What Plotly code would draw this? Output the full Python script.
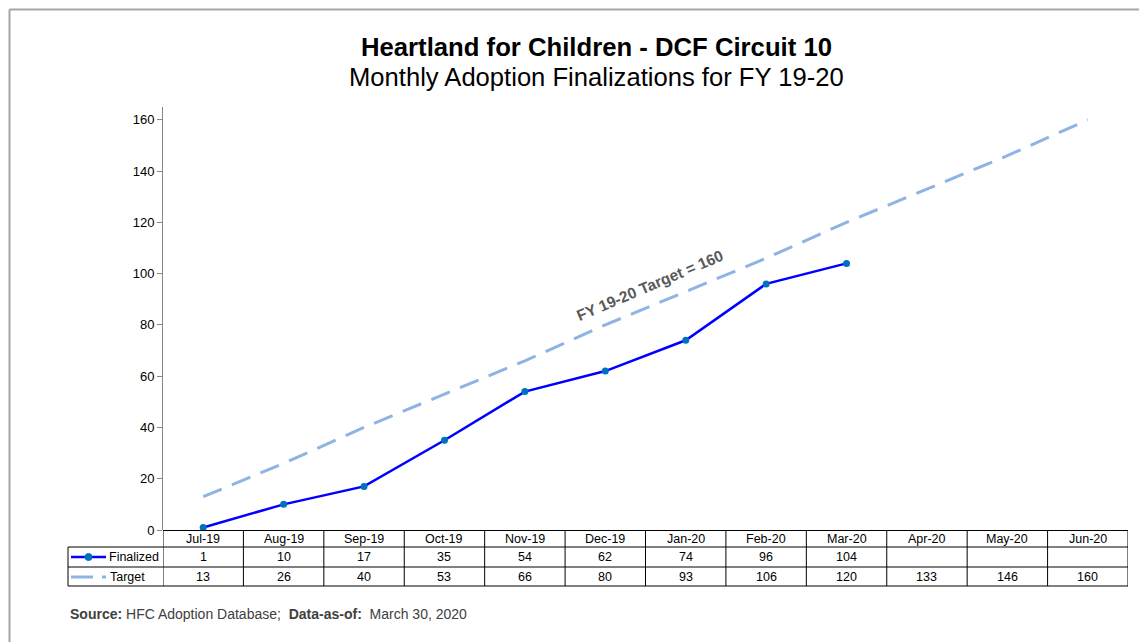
import plotly.graph_objects as go

months = ["Jul-19", "Aug-19", "Sep-19", "Oct-19", "Nov-19", "Dec-19",
          "Jan-20", "Feb-20", "Mar-20", "Apr-20", "May-20", "Jun-20"]
finalized = [1, 10, 17, 35, 54, 62, 74, 96, 104, None, None, None]
target = [13, 26, 40, 53, 66, 80, 93, 106, 120, 133, 146, 160]

OFF = 8  # default page body margin
W, H = 1147, 642
# plot area in screen px (reference): x 163..1128, y 107..530
L, T = 163 - OFF, 107 - OFF
R, B = W - (1128 - OFF), H - (530 - OFF)
pw, ph = W - L - R, H - T - B


def px(x):
    return (x - OFF - L) / pw


def py(y):
    return (H - B - (y - OFF)) / ph


fig = go.Figure()
fig.add_trace(go.Scatter(
    x=months, y=target, mode="lines", name="Target",
    line=dict(color="#8DB4E2", width=3, dash="20px,11px"),
))
fig.add_trace(go.Scatter(
    x=months, y=finalized, mode="lines+markers", name="Finalized",
    line=dict(color="#0000FF", width=2.5),
    marker=dict(color="#0070C0", size=7),
))

shapes = []
ann = []
FONT = "Liberation Sans, Arial, sans-serif"

# chart outer border (top and left edges visible)
shapes.append(dict(type="line", xref="paper", yref="paper",
                   x0=px(9.5), x1=px(1146), y0=py(9.5), y1=py(9.5),
                   line=dict(color="#A6A6A6", width=2), layer="below"))
shapes.append(dict(type="line", xref="paper", yref="paper",
                   x0=px(9.5), x1=px(9.5), y0=py(642), y1=py(9.5),
                   line=dict(color="#A6A6A6", width=2), layer="below"))

# table grid
row_lines = [547, 567, 586]
for yy in row_lines:
    shapes.append(dict(type="line", xref="paper", yref="paper",
                       x0=px(68), x1=1, y0=py(yy), y1=py(yy),
                       line=dict(color="#000000", width=1)))
for i in range(len(months) + 1):
    shapes.append(dict(type="line", xref="x", yref="paper",
                       x0=i - 0.5, x1=i - 0.5, y0=py(586), y1=py(530),
                       line=dict(color="#000000", width=1)))
shapes.append(dict(type="line", xref="paper", yref="paper",
                   x0=px(68), x1=px(68), y0=py(586), y1=py(547),
                   line=dict(color="#000000", width=1)))
# legend keys in the table
shapes.append(dict(type="line", xref="paper", yref="paper",
                   x0=px(71), x1=px(106), y0=py(557), y1=py(557),
                   line=dict(color="#0000FF", width=2.5)))
shapes.append(dict(type="circle", xref="paper", yref="paper",
                   x0=px(85), x1=px(92), y0=py(560.5), y1=py(553.5),
                   fillcolor="#0070C0", line=dict(color="#0070C0", width=1)))
shapes.append(dict(type="line", xref="paper", yref="paper",
                   x0=px(71), x1=px(93), y0=py(577), y1=py(577),
                   line=dict(color="#8DB4E2", width=3)))
shapes.append(dict(type="line", xref="paper", yref="paper",
                   x0=px(102), x1=px(106), y0=py(577), y1=py(577),
                   line=dict(color="#8DB4E2", width=3)))

tfont = dict(family=FONT, size=12.5, color="#000000")
for i, m in enumerate(months):
    ann.append(dict(x=m, xref="x", y=py(539), yref="paper", text=m,
                    showarrow=False, font=tfont, xanchor="center", yanchor="middle"))
    if finalized[i] is not None:
        ann.append(dict(x=m, xref="x", y=py(557), yref="paper", text=str(finalized[i]),
                        showarrow=False, font=tfont, xanchor="center", yanchor="middle"))
    ann.append(dict(x=m, xref="x", y=py(577), yref="paper", text=str(target[i]),
                    showarrow=False, font=tfont, xanchor="center", yanchor="middle"))
ann.append(dict(x=px(161), xref="paper", y=py(557), yref="paper", text="Finalized",
                showarrow=False, font=tfont, xanchor="right", yanchor="middle"))
ann.append(dict(x=px(147), xref="paper", y=py(577), yref="paper", text="Target",
                showarrow=False, font=tfont, xanchor="right", yanchor="middle"))

# titles
ann.append(dict(x=px(596), xref="paper", y=py(47), yref="paper",
                text="<b>Heartland for Children - DCF Circuit 10</b>",
                showarrow=False, font=dict(family=FONT, size=25.7, color="#000000"),
                xanchor="center", yanchor="middle"))
ann.append(dict(x=px(596), xref="paper", y=py(77), yref="paper",
                text="Monthly Adoption Finalizations for FY 19-20",
                showarrow=False, font=dict(family=FONT, size=25.6, color="#000000"),
                xanchor="center", yanchor="middle"))

# target label
ann.append(dict(x=5.55, xref="x", y=95.5, yref="y",
                text="<b>FY 19-20 Target = 160</b>", textangle=-23,
                showarrow=False, font=dict(family=FONT, size=15.5, color="#595959"),
                xanchor="center", yanchor="middle"))

# footer
ann.append(dict(x=px(68), xref="paper", y=py(614), yref="paper",
                text="<b>Source:</b> HFC Adoption Database;  <b>Data-as-of:</b>  March 30, 2020",
                showarrow=False, font=dict(family=FONT, size=14, color="#404040"),
                xanchor="left", yanchor="middle"))

fig.update_layout(
    width=W, height=H,
    margin=dict(l=L, r=R, t=T, b=B),
    paper_bgcolor="white", plot_bgcolor="white",
    showlegend=False,
    shapes=shapes, annotations=ann,
    xaxis=dict(type="category", range=[-0.5, 11.5], showticklabels=False,
               showgrid=False, zeroline=False, showline=False, ticks=""),
    yaxis=dict(range=[0, 165], tickvals=[0, 20, 40, 60, 80, 100, 120, 140, 160],
               showgrid=False, zeroline=True, zerolinecolor="#000000", zerolinewidth=1,
               showline=True, linecolor="#868686", linewidth=1,
               ticks="outside", ticklen=5, tickcolor="#868686",
               tickfont=dict(family=FONT, size=13, color="#000000")),
)

fig.write_html("out.html")
